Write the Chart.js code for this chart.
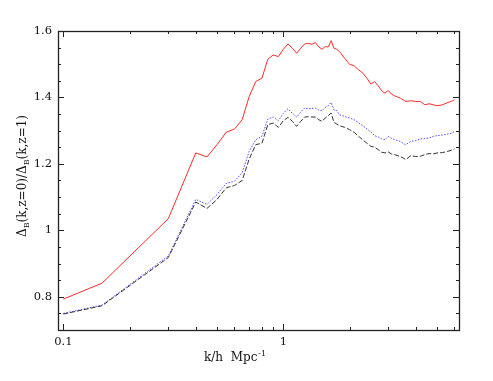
<!DOCTYPE html>
<html lang="en">
<head>
<meta charset="UTF-8">
<title>Delta ratio vs k</title>
<script src="https://cdn.jsdelivr.net/npm/chart.js"></script>
<style>
    body { margin: 0; padding: 0; background: #fff; }
    #wrap { width: 493px; height: 381px; }
</style>
</head>
<body>
<div id="wrap"><canvas id="chart" width="493" height="381"></canvas></div>
<script>
// k values (h/Mpc) shared by the three curves
const kValues = [0.1, 0.15, 0.3, 0.4, 0.45, 0.5, 0.55, 0.6, 0.65, 0.7, 0.75, 0.8, 0.85, 0.9, 0.95,
    1.0, 1.05, 1.1, 1.15, 1.2, 1.25, 1.3, 1.35, 1.4, 1.45, 1.5, 1.55, 1.6, 1.65, 1.7, 1.75, 1.8,
    1.9, 2.0, 2.1, 2.2, 2.3, 2.4, 2.5, 2.6, 2.7, 2.8, 2.9, 3.0, 3.1, 3.2, 3.4, 3.5, 3.6, 3.8,
    4.0, 4.2, 4.4, 4.6, 4.8, 5.0, 5.3, 5.6, 5.8, 6.0];

const redSeries = [0.793, 0.841, 1.035, 1.233, 1.221, 1.258, 1.295, 1.305, 1.333, 1.403, 1.448, 1.458, 1.515, 1.528, 1.523,
    1.545, 1.561, 1.548, 1.533, 1.548, 1.561, 1.563, 1.560, 1.565, 1.552, 1.545, 1.553, 1.552, 1.571, 1.548, 1.545, 1.538,
    1.518, 1.500, 1.495, 1.483, 1.473, 1.458, 1.440, 1.448, 1.435, 1.420, 1.413, 1.421, 1.410, 1.405, 1.398, 1.393, 1.388, 1.390,
    1.388, 1.388, 1.378, 1.381, 1.378, 1.375, 1.378, 1.385, 1.388, 1.393];

const blueSeries = [0.750, 0.775, 0.923, 1.093, 1.078, 1.108, 1.141, 1.148, 1.173, 1.238, 1.273, 1.283, 1.335, 1.341, 1.330,
    1.352, 1.366, 1.352, 1.341, 1.356, 1.368, 1.366, 1.367, 1.368, 1.362, 1.360, 1.370, 1.375, 1.385, 1.362, 1.360, 1.348,
    1.343, 1.338, 1.333, 1.323, 1.315, 1.305, 1.296, 1.285, 1.281, 1.275, 1.273, 1.283, 1.277, 1.273, 1.268, 1.262, 1.258, 1.268,
    1.270, 1.275, 1.276, 1.278, 1.283, 1.285, 1.287, 1.290, 1.292, 1.298];

const blackSeries = [0.748, 0.773, 0.918, 1.085, 1.066, 1.093, 1.128, 1.135, 1.150, 1.215, 1.258, 1.262, 1.318, 1.323, 1.310,
    1.330, 1.340, 1.328, 1.313, 1.328, 1.341, 1.342, 1.341, 1.341, 1.333, 1.328, 1.338, 1.345, 1.353, 1.325, 1.320, 1.315,
    1.310, 1.303, 1.295, 1.283, 1.272, 1.262, 1.253, 1.250, 1.243, 1.235, 1.233, 1.236, 1.230, 1.228, 1.222, 1.218, 1.213, 1.225,
    1.222, 1.223, 1.228, 1.231, 1.230, 1.233, 1.234, 1.238, 1.241, 1.245];

const yTickValues = [0.8, 1.0, 1.2, 1.4, 1.6];
const yMinorStep = 0.05;
const xMajorTicks = [0.1, 1];
const xMinorTicks = [0.2, 0.3, 0.4, 0.5, 0.6, 0.7, 0.8, 0.9, 2, 3, 4, 5, 6];

const FONT = 'DejaVu Serif';

function toPoints(ys) {
    return kValues.map((k, i) => ({ x: k, y: ys[i] }));
}

// box, inward ticks and the two axis titles (PGPLOT look)
const frame = {
    id: 'frame',
    afterDraw(chart) {
        const ctx = chart.ctx;
        const a = chart.chartArea;
        const xs = chart.scales.x, ys = chart.scales.y;
        ctx.save();
        ctx.strokeStyle = '#222';
        ctx.lineWidth = 1.3;
        ctx.strokeRect(a.left + 0.5, a.top + 0.5, a.right - a.left, a.bottom - a.top);

        ctx.lineWidth = 1;
        const tick = (px, len, vertical) => {
            ctx.beginPath();
            if (vertical) {
                ctx.moveTo(px, a.bottom); ctx.lineTo(px, a.bottom - len);
                ctx.moveTo(px, a.top); ctx.lineTo(px, a.top + len);
            } else {
                ctx.moveTo(a.left, px); ctx.lineTo(a.left + len, px);
                ctx.moveTo(a.right, px); ctx.lineTo(a.right - len, px);
            }
            ctx.stroke();
        };
        xMajorTicks.forEach(v => tick(Math.round(xs.getPixelForValue(v)) + 0.5, 6, true));
        xMinorTicks.forEach(v => tick(Math.round(xs.getPixelForValue(v)) + 0.5, 3, true));
        for (let v = 0.7; v <= 1.6001; v += yMinorStep) {
            const major = yTickValues.some(t => Math.abs(t - v) < 1e-6);
            tick(Math.round(ys.getPixelForValue(v)) + 0.5, major ? 6 : 3, false);
        }

        ctx.fillStyle = '#111';
        // x title
        ctx.font = '12px "' + FONT + '"';
        ctx.textBaseline = 'alphabetic';
        ctx.textAlign = 'left';
        const main = 'k/h  Mpc';
        ctx.fillText(main, 204, 361);
        const w = ctx.measureText(main).width;
        ctx.font = '8px "' + FONT + '"';
        ctx.fillText('-1', 204 + w + 1, 356);

        // y title, rotated, with subscripts
        const parts = [['Δ', false], ['B', true], ['(k,z=0)/Δ', false], ['B', true], ['(k,z=1)', false]];
        const big = '12px "' + FONT + '"', small = '8px "' + FONT + '"';
        let total = 0;
        parts.forEach(p => { ctx.font = p[1] ? small : big; total += ctx.measureText(p[0]).width; });
        ctx.translate(26, 176);
        ctx.rotate(-Math.PI / 2);
        let x = -total / 2;
        parts.forEach(p => {
            ctx.font = p[1] ? small : big;
            ctx.fillText(p[0], x, p[1] ? 3 : 0);
            x += ctx.measureText(p[0]).width;
        });
        ctx.restore();
    }
};

new Chart(document.getElementById('chart'), {
    type: 'scatter',
    data: {
        datasets: [
            { data: toPoints(blackSeries), borderColor: '#333333', borderDash: [5, 2], borderWidth: 1, showLine: true, pointRadius: 0 },
            { data: toPoints(blueSeries), borderColor: '#4a4aff', borderDash: [1.5, 1.5], borderWidth: 1, showLine: true, pointRadius: 0 },
            { data: toPoints(redSeries), borderColor: '#ff2a2a', borderWidth: 1, showLine: true, pointRadius: 0 }
        ]
    },
    options: {
        responsive: false,
        animation: false,
        layout: { padding: { left: 0, top: 31, right: 34, bottom: 0 } },
        plugins: { legend: { display: false }, tooltip: { enabled: false } },
        elements: { line: { tension: 0 } },
        scales: {
            x: {
                type: 'logarithmic',
                min: 0.0946,
                max: 6.29,
                grid: { display: false, drawTicks: false },
                border: { display: false },
                afterFit: s => { s.height = 51; },
                afterBuildTicks: s => { s.ticks = xMajorTicks.concat(xMinorTicks).map(v => ({ value: v })); },
                ticks: {
                    autoSkip: false, maxRotation: 0, padding: 5,
                    color: '#111', font: { family: FONT, size: 11.5 },
                    callback: v => (v === 0.1 ? '0.1' : v === 1 ? '1' : '')
                }
            },
            y: {
                min: 0.7,
                max: 1.6,
                grid: { display: false, drawTicks: false },
                border: { display: false },
                afterFit: s => { s.width = 58; },
                afterBuildTicks: s => { s.ticks = yTickValues.map(v => ({ value: v })); },
                ticks: {
                    padding: 6,
                    color: '#111', font: { family: FONT, size: 11.5 },
                    callback: v => String(+v.toFixed(1))
                }
            }
        }
    },
    plugins: [frame]
});
</script>
</body>
</html>
